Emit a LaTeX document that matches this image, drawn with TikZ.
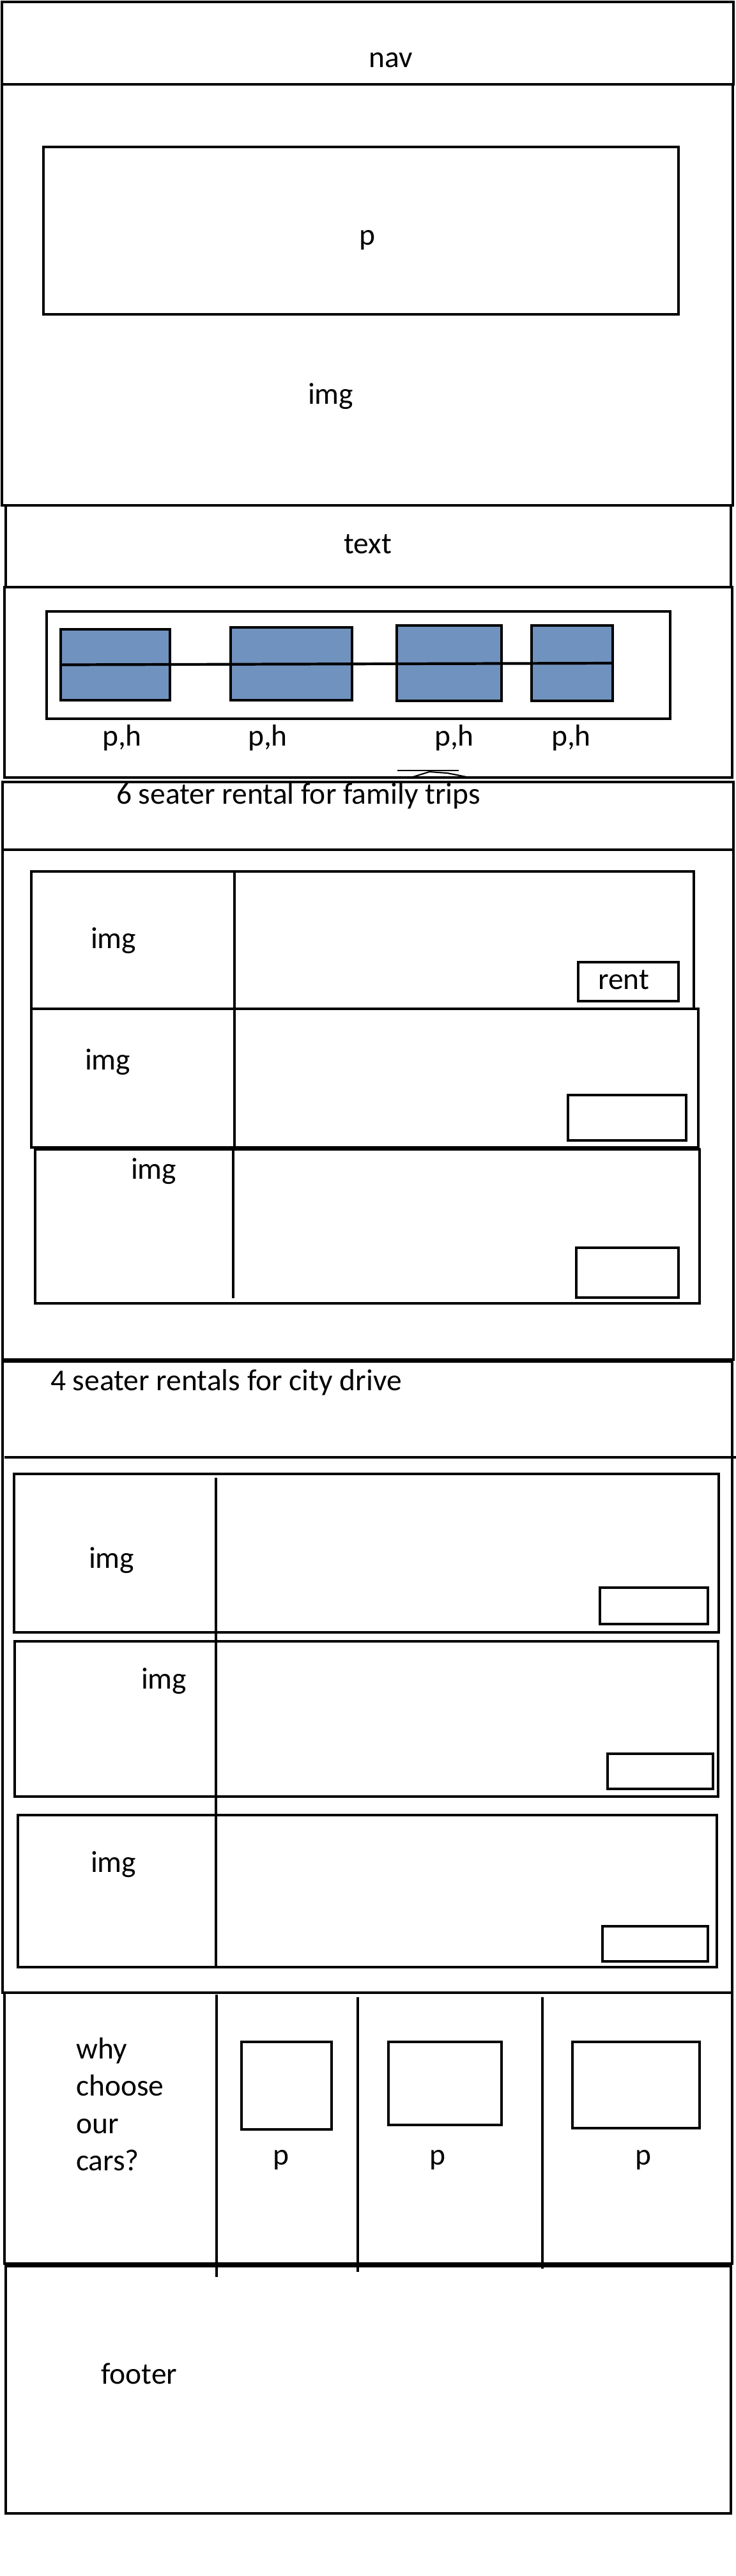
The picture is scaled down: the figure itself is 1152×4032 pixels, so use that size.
\documentclass[tikz,border=0pt]{standalone}
\usepackage{fontspec}
\setmainfont{Carlito}
\definecolor{bluegray}{RGB}{112,146,190}

\begin{document}
\begin{tikzpicture}[x=0.01cm,y=-0.01cm,line width=1.2pt,
    lbl/.style={font=\fontsize{13.5}{16}\selectfont,anchor=base west,inner sep=0pt},
    feat/.style={draw,fill=bluegray,inner sep=0pt,outer sep=0pt}]
        \useasboundingbox (0,0) rectangle (1152,4032);
        % nav and hero
        \draw (3,3) rectangle (1148,132);
        \node[lbl] (nav) at (575,105) {nav};
        \draw (3,132) rectangle (1147,791);
        \draw (68,230) rectangle (1062,492);
        \node[lbl] (herop) at (560,383) {p};
        \node[lbl] (heroimg) at (480,632) {img};
        % text
        \draw (9,791) rectangle (1144,919);
        \node[lbl] (text) at (536,866) {text};
        % features strip
        \draw (7,919) rectangle (1146,1217);
        \draw (73,957) rectangle (1049,1125);
        \foreach \cx/\cy/\w/\h/\tx [count=\i] in {180.5/1040.5/1.71/1.11/158, 456/1039/1.90/1.14/386, 703/1038/1.64/1.18/678, 895.5/1038/1.27/1.18/861}{
            \node[feat,minimum width=\w cm,minimum height=\h cm] (f\i) at (\cx,\cy) {};
            \node[lbl] (ph\i) at (\tx,1167) {p,h};
        }
        \draw (f1.west) -- (f4.east);
        \draw[line width=0.4pt] (622,1206) -- (718,1206);
        \draw[line width=0.6pt] (640,1218) -- (672,1208) -- (700,1210) -- (735,1217);
        % 6 seater
        \draw (4,1224) rectangle (1148,2128);
        \draw (4,1330) -- (1148,1330);
        \node[lbl] (six) at (180,1258) {6 seater rental for family trips};
        \foreach \a/\b/\c/\d in {49/1364/1086/1579, 49/1579/1093/1796, 55/1799/1095/2040}{\draw (\a,\b) rectangle (\c,\d);}
        \draw (367,1364) -- (367,1796);
        \draw (365,1799) -- (365,2032);
        \foreach \a/\b/\c/\d in {905/1506/1062/1567, 889/1714/1074/1785, 902/1953/1062/2031}{\draw (\a,\b) rectangle (\c,\d);}
        \foreach \x/\y [count=\i] in {140/1484, 131/1674, 203/1845}{\node[lbl] (sixImg\i) at (\x,\y) {img};}
        \node[lbl] (rent) at (934,1548) {rent};
        % 4 seater
        \draw (4,2131) rectangle (1146,3119);
        \draw (7,2281) -- (1152,2281);
        \node[lbl] (four) at (77,2176) {4 seater rentals for city drive};
        \foreach \a/\b/\c/\d in {22/2307/1125/2555, 23/2569/1124/2812, 28/2841/1122/3079}{\draw (\a,\b) rectangle (\c,\d);}
        \draw (338,2313) -- (338,3079);
        \foreach \a/\b/\c/\d in {939/2485/1108/2542, 951/2745/1116/2800, 943/3015/1108/3070}{\draw (\a,\b) rectangle (\c,\d);}
        \foreach \x/\y [count=\i] in {137/2454, 219/2643, 140/2930}{\node[lbl] (fourImg\i) at (\x,\y) {img};}
        % why choose
        \draw (7,3119) rectangle (1146,3543);
        \foreach \x/\b/\e in {339/3122/3564, 560/3126/3556, 849/3126/3551}{\draw (\x,\b) -- (\x,\e);}
        \foreach \a/\b/\c/\d/\tx [count=\i] in {378/3196/519/3333/425, 608/3196/785/3326/670, 896/3196/1095/3331/992}{
            \draw (\a,\b) rectangle (\c,\d);
            \node[lbl] (whyp\i) at (\tx,3388) {p};
        }
        \foreach \w [count=\i from 0] in {why,choose,our,cars?}{\node[lbl] (why\i) at (117,3222+58.5*\i) {\w};}
        % footer
        \draw (9,3547) rectangle (1144,3934);
        \node[lbl] (footer) at (156,3731) {footer};
    \end{tikzpicture}
\end{document}
